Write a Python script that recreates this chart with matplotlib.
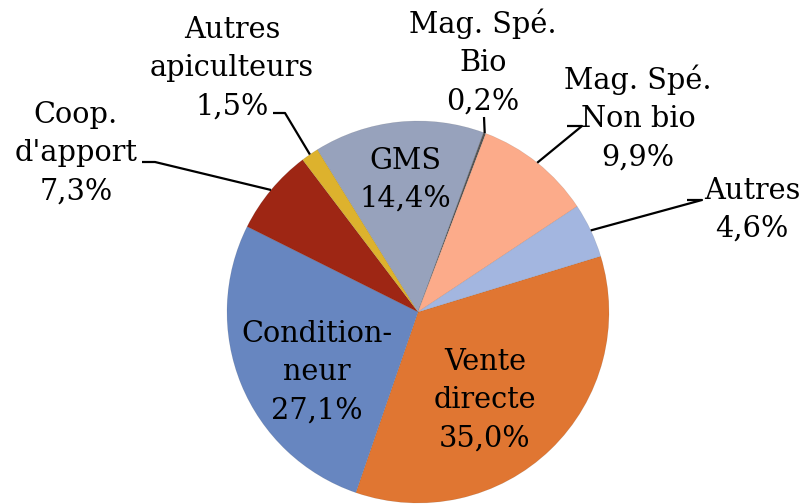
import numpy as np
import matplotlib
matplotlib.use('Agg')
import matplotlib.pyplot as plt

# Data (clockwise, starting with Vente directe)
labels = ['Vente\ndirecte', 'Condition-\nneur', "Coop.\nd'apport", 'Autres\napiculteurs',
          'GMS', 'Mag. Spé.\nBio', 'Mag. Spé.\nNon bio', 'Autres']
values = [35.0, 27.1, 7.3, 1.5, 14.4, 0.2, 9.9, 4.6]
colors = ['#E07632', '#6786C0', '#9E2614', '#DDB22D', '#97A2BC', '#555555', '#FCAB8A', '#A3B6E0']

W, H = 804, 504
cx, cy, R = 418, 312, 191      # pie centre / radius in pixels

plt.rcParams['font.family'] = ['DejaVu Serif']
fig = plt.figure(figsize=(W / 100, H / 100), dpi=100)
ax = fig.add_axes([0, 0, 1, 1])

def fy(y):
    # pixel row -> data y
    return H - y

wedges, _ = ax.pie(values, colors=colors, startangle=17, counterclock=False,
                   center=(cx, fy(cy)), radius=R, frame=True,
                   wedgeprops=dict(linewidth=0.4, edgecolor='#00000020'))
ax.set_xlim(0, W)
ax.set_ylim(0, H)
ax.set_aspect('equal')
ax.axis('off')

def pct(v):
    return ('%.1f%%' % v).replace('.', ',')

def edge_point(w):
    a = np.deg2rad((w.theta1 + w.theta2) / 2)
    return cx + R * np.cos(a), fy(cy) + R * np.sin(a)

fs = 20.7
ls = 1.46
# inside labels: index -> text centre (px)
inside = {0: (485, 400), 1: (317, 372), 4: (405, 180)}
for i, (x, y) in inside.items():
    ax.text(x, fy(y), labels[i] + '\n' + pct(values[i]), ha='center', va='center',
            fontsize=fs, linespacing=ls)

# outside labels: index -> (text centre, elbow, horizontal end)
outside = {
    2: ((76, 153), (155, 162), (142, 162)),
    3: ((232, 68), (285, 113), (273, 113)),
    5: ((483, 62), (484, 117), None),
    6: ((638, 118), (582, 126), (567, 126)),
    7: ((752, 210), (702, 200), (687, 200)),
}
for i, (txt, elbow, hend) in outside.items():
    ax.text(txt[0], fy(txt[1]), labels[i] + '\n' + pct(values[i]), ha='center', va='center',
            fontsize=fs, linespacing=ls)
    ex, ey = edge_point(wedges[i])
    xs = [ex, elbow[0]]
    ys = [ey, fy(elbow[1])]
    if hend is not None:
        xs.append(hend[0])
        ys.append(fy(hend[1]))
    ax.plot(xs, ys, color='black', lw=1.6, solid_capstyle='butt')

fig.savefig('out.png', dpi=100)
